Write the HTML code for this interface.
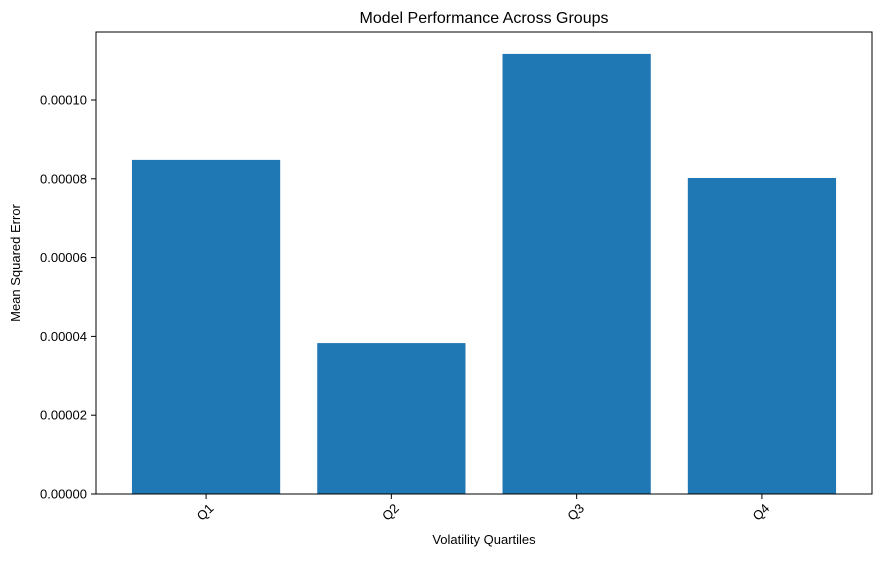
<!DOCTYPE html>
<html><head><meta charset="utf-8"><style>
body{margin:0;background:#fff;}
text{font-family:"Liberation Sans","DejaVu Sans",sans-serif;fill:#000;}
</style></head><body>
<svg id="chart" width="881" height="557">
<rect x="0" y="0" width="881" height="557" fill="#fff"/>
<text x="484" y="23" font-size="16" text-anchor="middle">Model Performance Across Groups</text>
<g id="bars"></g>
<g id="yticks"></g>
<g id="xticks"></g>
<rect x="96" y="32" width="776" height="462" fill="none" stroke="#000" stroke-width="1"/>
<text x="484" y="544" font-size="13" text-anchor="middle">Volatility Quartiles</text>
<text transform="translate(20,263) rotate(-90)" font-size="13" text-anchor="middle">Mean Squared Error</text>
</svg>
<script>
const categories = ["Q1","Q2","Q3","Q4"];
const values = [0.0000848, 0.0000383, 0.0001117, 0.0000802];
const yTicks = [0, 0.00002, 0.00004, 0.00006, 0.00008, 0.0001];
const yTickLabels = ["0.00000","0.00002","0.00004","0.00006","0.00008","0.00010"];
const NS="http://www.w3.org/2000/svg";
const L=96,R=872,T=32,B=494;
const xMin=-0.594,xMax=3.594;
const yPerUnit=78.8/0.00002;
function xs(i){return L+(i-xMin)/(xMax-xMin)*(R-L);}
function ys(v){return B-v*yPerUnit;}
const bw=(xs(1)-xs(0))*0.8;
const gB=document.getElementById('bars'),gY=document.getElementById('yticks'),gX=document.getElementById('xticks');
values.forEach((v,i)=>{
  const r=document.createElementNS(NS,'rect');
  r.setAttribute('x',xs(i)-bw/2);r.setAttribute('y',ys(v));
  r.setAttribute('width',bw);r.setAttribute('height',B-ys(v));
  r.setAttribute('fill','#1f77b4');
  
  
  gB.appendChild(r);
  const tk=document.createElementNS(NS,'line');
  tk.setAttribute('x1',xs(i));tk.setAttribute('x2',xs(i));tk.setAttribute('y1',B);tk.setAttribute('y2',B+5);
  tk.setAttribute('stroke','#000');
  
  
  gX.appendChild(tk);
  const t=document.createElementNS(NS,'text');
  t.setAttribute('transform','translate('+(xs(i)-1)+','+(B+18)+') rotate(-45)');
  t.setAttribute('font-size','13');t.setAttribute('text-anchor','middle');t.setAttribute('dy','0.35em');
  t.textContent=categories[i];
  
  
  gX.appendChild(t);
});
yTicks.forEach((v,i)=>{
  const y=ys(v);
  const tk=document.createElementNS(NS,'line');
  tk.setAttribute('x1',L-5);tk.setAttribute('x2',L);tk.setAttribute('y1',y);tk.setAttribute('y2',y);
  tk.setAttribute('stroke','#000');
  
  
  gY.appendChild(tk);
  const t=document.createElementNS(NS,'text');
  t.setAttribute('x',L-9);t.setAttribute('y',y+4.5);
  t.setAttribute('font-size','13');t.setAttribute('text-anchor','end');
  t.textContent=yTickLabels[i];
  
  
  gY.appendChild(t);
});
</script>
</body></html>
